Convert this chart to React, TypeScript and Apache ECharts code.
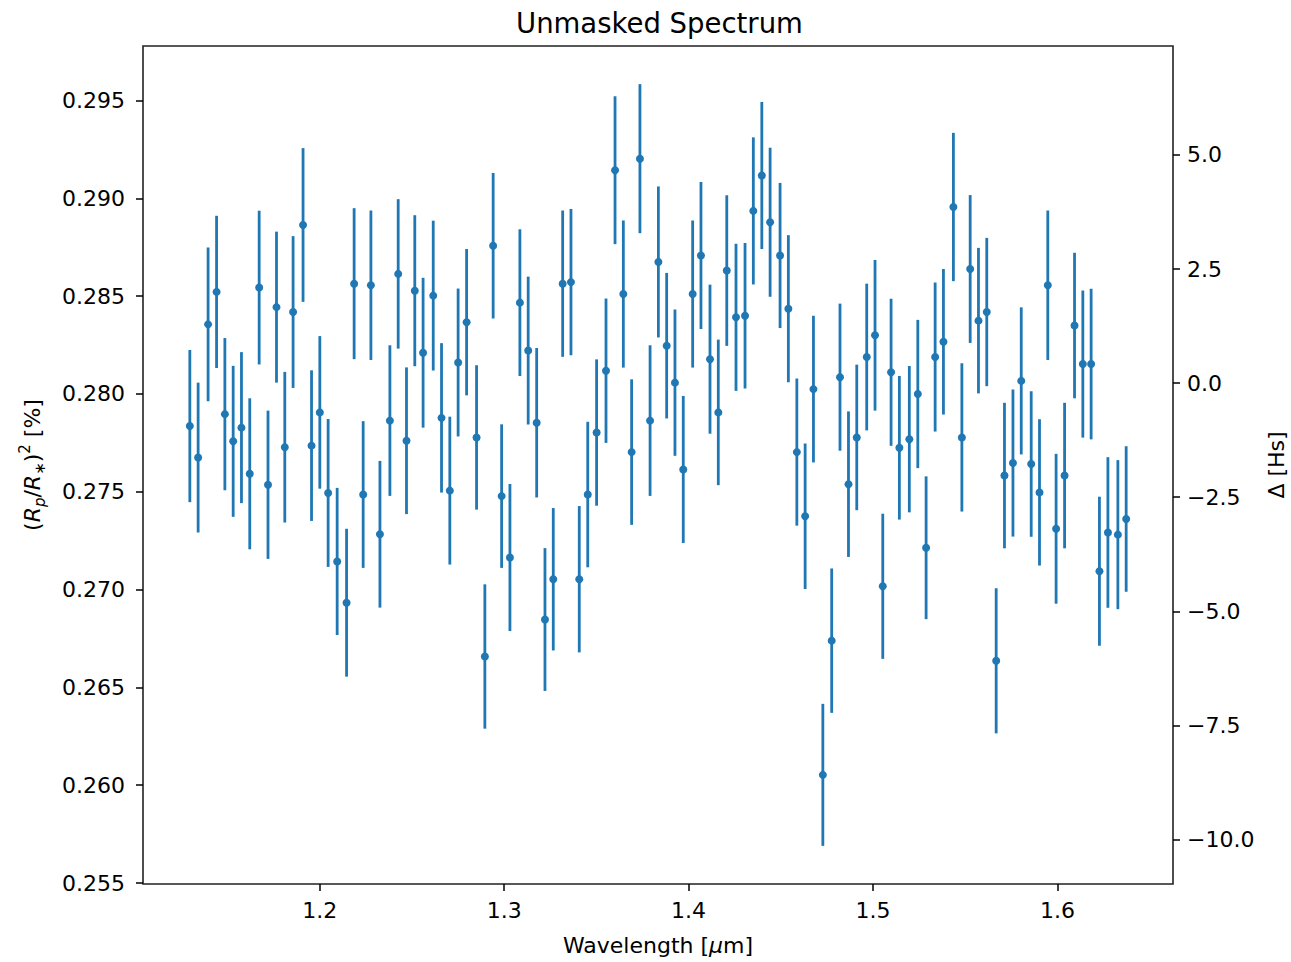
import React, { useEffect, useRef } from "react";
import * as echarts from "echarts";

// Wavelength bins [µm]
const wavelengths: number[] = [
  1.1295, 1.134, 1.1394, 1.144, 1.1485, 1.153, 1.1575, 1.162, 1.1671, 1.1719, 1.1765, 1.181, 1.1855, 1.1909, 1.1955, 1.2,
  1.2045, 1.2094, 1.2145, 1.2186, 1.2235, 1.2277, 1.2326, 1.238, 1.2425, 1.247, 1.2515, 1.256, 1.2615, 1.266, 1.2705, 1.275, 1.2796, 1.285, 1.2895,
  1.294, 1.2986, 1.3031, 1.3085, 1.313, 1.3176, 1.3221, 1.3266, 1.3317, 1.3362, 1.3407, 1.3453, 1.3501, 1.3552, 1.3601, 1.3646, 1.3691, 1.3736, 1.3791,
  1.3836, 1.3881, 1.3926, 1.3971, 1.4022, 1.4067, 1.4116, 1.4161, 1.4207, 1.4257, 1.4306, 1.4351, 1.4397, 1.4442, 1.4496, 1.4541, 1.4587, 1.4632, 1.4677, 1.4728,
  1.4776, 1.4821, 1.4867, 1.4912, 1.4966, 1.5011, 1.5053, 1.5098, 1.5143, 1.5197, 1.5243, 1.5288, 1.5337, 1.5382, 1.5436, 1.5482, 1.5527, 1.5572, 1.5617, 1.5668,
  1.5713, 1.5759, 1.5804, 1.5858, 1.5903, 1.5948, 1.5993, 1.6039, 1.6093, 1.6138, 1.6183, 1.6228, 1.6274, 1.6328, 1.6373,
];

// Transit depth (Rp/R*)^2
const depths: number[] = [
  0.27836, 0.27675, 0.28356, 0.28522, 0.27897, 0.27758, 0.27828, 0.27592, 0.28544, 0.27536, 0.28444, 0.27728, 0.28419, 0.28864, 0.27736, 0.27906,
  0.27494, 0.27144, 0.26933, 0.28564, 0.27486, 0.28556, 0.27283, 0.27864, 0.28614, 0.27761, 0.28528, 0.28211, 0.28503, 0.27878, 0.27506, 0.28161, 0.28367, 0.27778, 0.26658,
  0.28758, 0.27478, 0.27164, 0.28467, 0.28222, 0.27853, 0.26847, 0.27053, 0.28564, 0.28572, 0.27053, 0.27486, 0.27803, 0.28119, 0.29144, 0.28511, 0.27703, 0.29203, 0.27864,
  0.28675, 0.28247, 0.28058, 0.27614, 0.28511, 0.28708, 0.28178, 0.27906, 0.28631, 0.28392, 0.284, 0.28936, 0.29117, 0.28878, 0.28708, 0.28436, 0.27703, 0.27375, 0.28025, 0.26053,
  0.26739, 0.28086, 0.27539, 0.27778, 0.28189, 0.283, 0.27017, 0.28111, 0.27725, 0.27769, 0.28, 0.27214, 0.28189, 0.28267, 0.28956, 0.27778, 0.28639, 0.28375, 0.28419, 0.26636,
  0.27583, 0.27647, 0.28067, 0.27642, 0.27497, 0.28556, 0.27311, 0.27583, 0.2835, 0.28153, 0.28153, 0.27094, 0.27292, 0.27281, 0.27361,
];

// 1-sigma uncertainties
const errors: number[] = [
  0.00389, 0.00383, 0.00393, 0.00389, 0.00389, 0.00386, 0.00386, 0.00386, 0.00393, 0.00379, 0.00386, 0.00385, 0.00388, 0.00393, 0.00385, 0.0039,
  0.00378, 0.00376, 0.00378, 0.00386, 0.00375, 0.00382, 0.00375, 0.00385, 0.00382, 0.00375, 0.00386, 0.00383, 0.00383, 0.00382, 0.00378, 0.00378, 0.00374, 0.00369, 0.00369,
  0.00372, 0.00367, 0.00376, 0.00375, 0.00378, 0.00382, 0.00365, 0.00364, 0.00374, 0.00374, 0.00374, 0.00372, 0.00374, 0.00369, 0.00378, 0.00376, 0.00372, 0.00381, 0.00385,
  0.00386, 0.00372, 0.00374, 0.00376, 0.00376, 0.00376, 0.00381, 0.00372, 0.00385, 0.00376, 0.00372, 0.00376, 0.00376, 0.00381, 0.00371, 0.00376, 0.00376, 0.00372, 0.00375, 0.00363,
  0.00369, 0.00376, 0.00372, 0.00372, 0.00375, 0.00385, 0.00371, 0.00376, 0.00367, 0.00374, 0.00379, 0.00365, 0.00381, 0.00372, 0.00379, 0.00379, 0.00378, 0.00372, 0.00379, 0.00371,
  0.00372, 0.00376, 0.00376, 0.00372, 0.00374, 0.00382, 0.00383, 0.00372, 0.00372, 0.00376, 0.00385, 0.00381, 0.00385, 0.00381, 0.00372,
];

const xTicks: number[] = [1.2, 1.3, 1.4, 1.5, 1.6];
const yTicks: number[] = [0.255, 0.26, 0.265, 0.27, 0.275, 0.28, 0.285, 0.29, 0.295];
const hsTicks: number[] = [-10, -7.5, -5, -2.5, 0, 2.5, 5];

// Secondary axis: Δ in scale heights
const depthAtZeroHs = 0.280556;
const depthPerHs = 0.0023333;

const X_MIN = 1.1041;
const X_MAX = 1.6627;
const Y_MIN = 0.25495;
const Y_MAX = 0.29779;

const BLUE = "#1f77b4";
const FONT = "DejaVu Sans";

export default function App() {
  const ref = useRef<HTMLDivElement>(null);

  useEffect(() => {
    if (!ref.current) return;
    const chart = echarts.init(ref.current, undefined, { renderer: "svg" });

    const barData = wavelengths.map((w, i) => [w, depths[i] - errors[i], depths[i] + errors[i]]);
    const pointData = wavelengths.map((w, i) => [w, depths[i]]);

    const tickStyle = { show: true, length: 7, lineStyle: { color: "#000", width: 1.5 } };

    chart.setOption({
      animation: false,
      backgroundColor: "#fff",
      textStyle: { fontFamily: FONT },
      title: {
        text: "Unmasked Spectrum",
        left: 511,
        top: 4,
        textStyle: { fontFamily: FONT, fontSize: 27.5, fontWeight: "normal", color: "#000" },
      },
      grid: {
        left: 143,
        right: 118,
        top: 46,
        bottom: 78,
        outerBoundsMode: "none",
        containLabel: false,
        show: true,
        borderColor: "#222",
        borderWidth: 1.6,
        backgroundColor: "transparent",
      },
      xAxis: {
        type: "value",
        min: X_MIN,
        max: X_MAX,
        name: "{n|Wavelength [}{i|µ}{n|m]}",
        nameLocation: "middle",
        nameGap: 50,
        nameTextStyle: {
          fontFamily: FONT,
          fontSize: 22,
          color: "#000",
          rich: {
            n: { fontFamily: FONT, fontSize: 22, color: "#000" },
            i: { fontFamily: FONT, fontSize: 22, fontStyle: "italic", color: "#000" },
          },
        },
        axisLine: { show: false, onZero: false },
        axisTick: { ...tickStyle, customValues: xTicks },
        axisLabel: {
          customValues: xTicks,
          formatter: (v: number) => v.toFixed(1),
          fontFamily: FONT,
          fontSize: 22,
          color: "#000",
          margin: 15,
        },
        splitLine: { show: false },
      },
      yAxis: [
        {
          type: "value",
          min: Y_MIN,
          max: Y_MAX,
          position: "left",
          name: "{n|(}{i|R}{sb|p}{n|/}{i|R}{sb|∗}{n|)}{sp|2}{n| [%]}",
          nameLocation: "middle",
          nameRotate: 90,
          nameGap: 96,
          nameTextStyle: {
            fontFamily: FONT,
            fontSize: 22,
            color: "#000",
            rich: {
              n: { fontFamily: FONT, fontSize: 22, color: "#000", height: 30, verticalAlign: "middle" },
              i: { fontFamily: FONT, fontSize: 22, fontStyle: "italic", color: "#000", height: 30, verticalAlign: "middle" },
              sb: { fontFamily: FONT, fontSize: 15, fontStyle: "italic", color: "#000", verticalAlign: "bottom" },
              sp: { fontFamily: FONT, fontSize: 15, color: "#000", verticalAlign: "top" },
            },
          },
          axisLine: { show: false, onZero: false },
          axisTick: { ...tickStyle, customValues: yTicks },
          axisLabel: {
            customValues: yTicks,
            formatter: (v: number) => v.toFixed(3),
            fontFamily: FONT,
            fontSize: 22,
            color: "#000",
            margin: 18,
          },
          splitLine: { show: false },
        },
        {
          type: "value",
          min: (Y_MIN - depthAtZeroHs) / depthPerHs,
          max: (Y_MAX - depthAtZeroHs) / depthPerHs,
          position: "right",
          name: "Δ [Hs]",
          nameLocation: "middle",
          nameRotate: 90,
          nameGap: 92,
          nameTextStyle: { fontFamily: FONT, fontSize: 22, color: "#000" },
          axisLine: { show: false, onZero: false },
          axisTick: { ...tickStyle, customValues: hsTicks },
          axisLabel: {
            customValues: hsTicks,
            formatter: (v: number) => v.toFixed(1).replace("-", "\u2212"),
            fontFamily: FONT,
            fontSize: 22,
            color: "#000",
            margin: 14,
          },
          splitLine: { show: false },
        },
      ],
      series: [
        {
          type: "custom",
          name: "errors",
          xAxisIndex: 0,
          yAxisIndex: 0,
          data: barData,
          encode: { x: 0, y: [1, 2] },
          renderItem: (params: any, api: any) => {
            const x = api.value(0);
            const p1 = api.coord([x, api.value(1)]);
            const p2 = api.coord([x, api.value(2)]);
            return {
              type: "line",
              shape: { x1: p1[0], y1: p1[1], x2: p2[0], y2: p2[1] },
              style: { stroke: BLUE, lineWidth: 2.8 },
            };
          },
          z: 2,
        },
        {
          type: "scatter",
          name: "spectrum",
          xAxisIndex: 0,
          yAxisIndex: 0,
          data: pointData,
          symbol: "circle",
          symbolSize: 8,
          itemStyle: { color: BLUE, opacity: 1 },
          z: 3,
        },
      ],
    });

    return () => chart.dispose();
  }, []);

  return (
    <div
      ref={ref}
      style={{ position: "fixed", left: 0, top: 0, width: 1291, height: 962, background: "#fff" }}
    />
  );
}
